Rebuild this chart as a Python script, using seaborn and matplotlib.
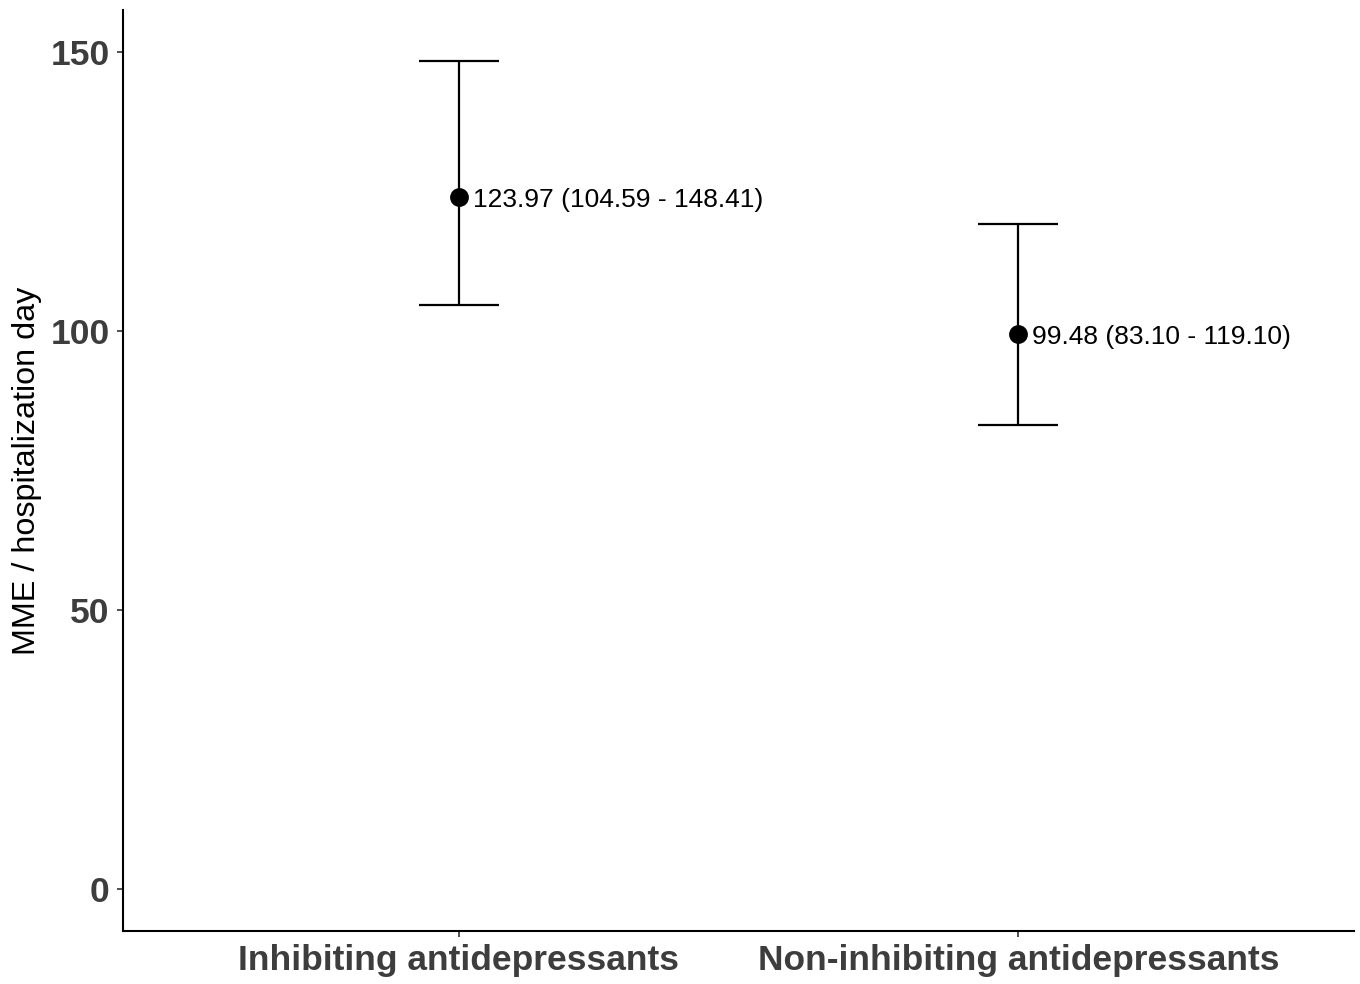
import matplotlib
matplotlib.use("Agg")
import matplotlib.pyplot as plt
import seaborn as sns
import numpy as np
import pandas as pd

categories = ["Inhibiting antidepressants", "Non-inhibiting antidepressants"]
estimates = [123.97, 99.48]
lower = [104.59, 83.10]
upper = [148.41, 119.10]
labels = ["123.97 (104.59 - 148.41)", "99.48 (83.10 - 119.10)"]
yticks = [0, 50, 100, 150]

sns.set_theme(style="ticks")
plt.rcParams['font.family'] = ['Liberation Sans', 'DejaVu Sans']

df = pd.DataFrame({"group": categories, "mme": estimates, "lo": lower, "hi": upper})

fig = plt.figure(figsize=(13.6, 9.84), dpi=100)
ax = fig.add_axes([123/1360, 53/984, (1354-123)/1360, (931-10)/984])

sns.pointplot(data=df, x="group", y="mme", linestyle="none", errorbar=None,
              color="black", marker="o", markersize=11.5, ax=ax, zorder=5)

xpos = np.arange(len(categories))
yerr = np.vstack([df["mme"] - df["lo"], df["hi"] - df["mme"]])
ax.errorbar(xpos, df["mme"], yerr=yerr, fmt="none", ecolor="black",
            elinewidth=1.6, capsize=28.8, capthick=1.6, zorder=4)

for x, y, t in zip(xpos, df["mme"], labels):
    ax.annotate(t, (x, y), xytext=(10, -2), textcoords="offset points",
                ha="left", va="center", fontsize=19, color="black")

ax.set_xlim(-0.6, 1.6)
ax.set_ylim(-7.5, 157.5)
ax.set_yticks(yticks)
ax.set_yticklabels([str(v) for v in yticks])
ax.set_xlabel("")
ax.set_ylabel("MME / hospitalization day", fontsize=23.3, color="black", labelpad=6)

for lab in ax.get_xticklabels() + ax.get_yticklabels():
    lab.set_fontweight("bold")
    lab.set_fontsize(25.5)
    lab.set_color("#3d3d3d")

ax.tick_params(axis="both", length=4.5, width=1.2, color="#333333")
ax.tick_params(axis="y", pad=5)
ax.tick_params(axis="x", pad=5)

sns.despine(ax=ax)
for s in ["left", "bottom"]:
    ax.spines[s].set_linewidth(1.5)
    ax.spines[s].set_color("black")

fig.savefig("out.png", dpi=100)
